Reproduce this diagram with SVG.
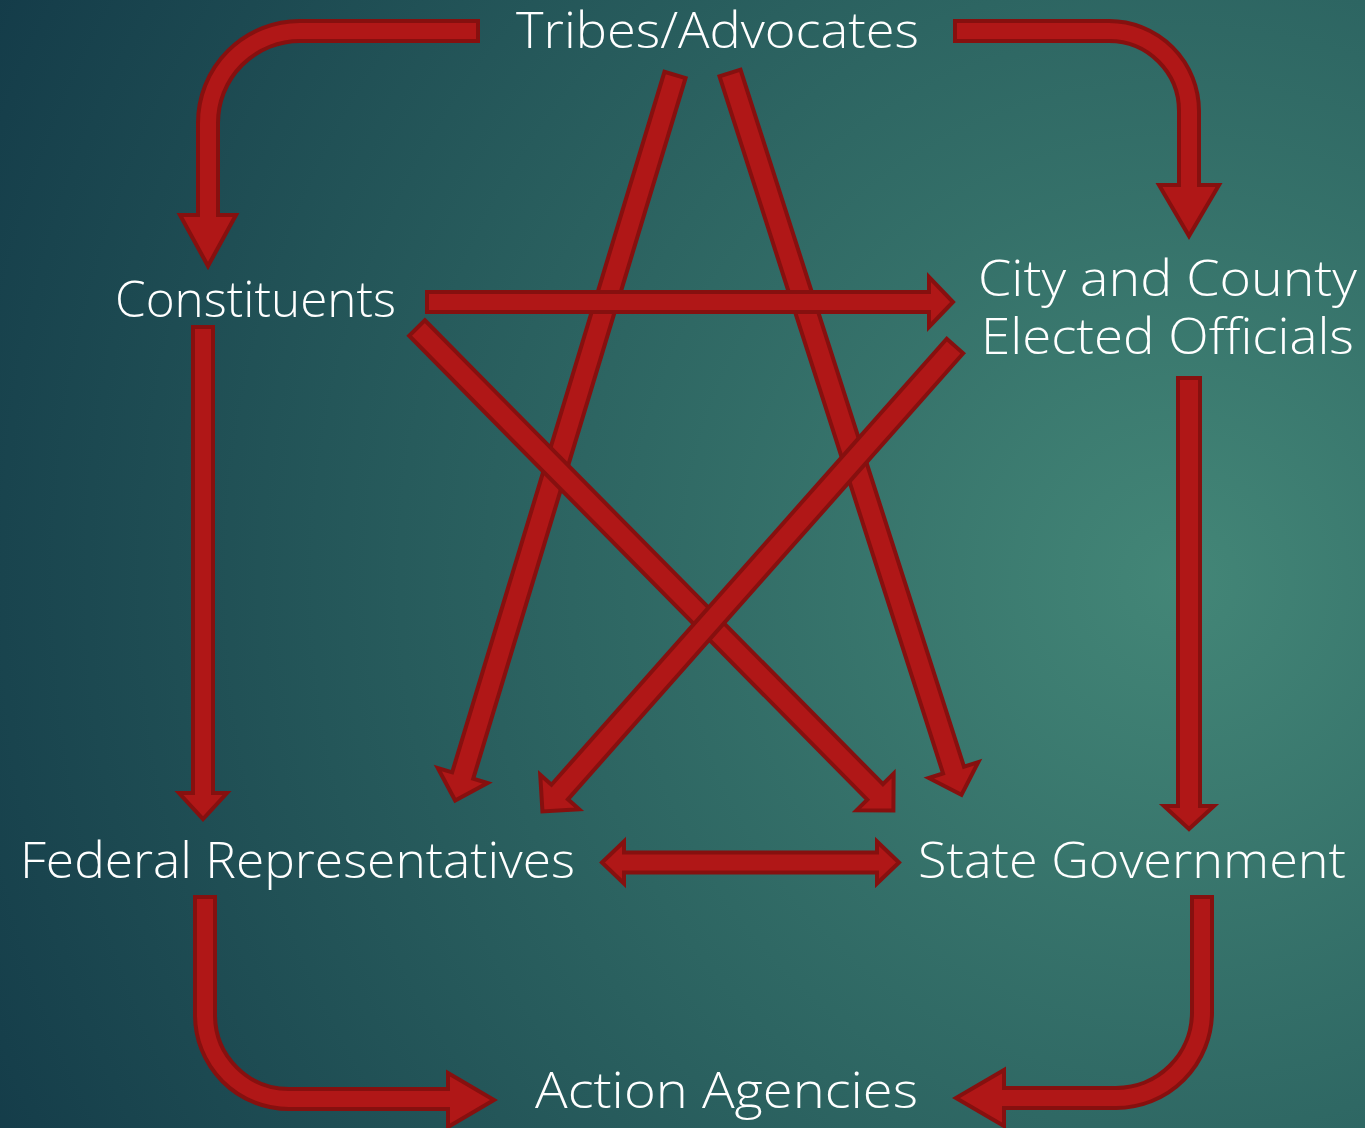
<svg xmlns="http://www.w3.org/2000/svg" width="1365" height="1128" viewBox="0 0 1365 1128">
<defs>
<radialGradient id="bg" gradientUnits="userSpaceOnUse" cx="1180" cy="580" r="1350">
<stop offset="0" stop-color="#438677"/>
<stop offset="0.45" stop-color="#2d6562"/>
<stop offset="1" stop-color="#133a48"/>
</radialGradient>
<style>
.a{fill:#b01717;stroke:#86100f;stroke-width:4;stroke-linejoin:miter}
.t{font-family:"Open Sans","DejaVu Sans",sans-serif;font-size:49px;font-weight:300;fill:#ffffff}
</style>
</defs>
<rect width="1365" height="1128" fill="url(#bg)"/>
<g id="connectors">
<path class="a" d="M478,21 L300,21 A102 102 0 0 0 198,123 L198,215 L180,215 L208,266 L236,215 L218,215 L218,123 A82 82 0 0 1 300,41 L478,41 Z"/>
<path class="a" d="M955,21 L1109,21 A90 90 0 0 1 1199,111 L1199,185 L1219,185 L1189,236 L1159,185 L1179,185 L1179,111 A70 70 0 0 0 1109,41 L955,41 Z"/>
<path class="a" d="M195,897 L195,1015 A94 94 0 0 0 289,1109 L448,1109 L448,1127 L494,1100 L448,1073 L448,1089 L289,1089 A74 74 0 0 1 215,1015 L215,897 Z"/>
<path class="a" d="M1212,897 L1212,1012 A96 96 0 0 1 1116,1108 L1004,1108 L1004,1126 L956,1098 L1004,1070 L1004,1088 L1116,1088 A76 76 0 0 0 1192,1012 L1192,897 Z"/>
<polygon class="a" transform="translate(675,75) rotate(106.86)" points="0,-11 732,-11 732,-26 758,0 732,26 732,11 0,11"/>
<polygon class="a" transform="translate(730,73) rotate(72.22)" points="0,-11 732,-11 732,-26 758,0 732,26 732,11 0,11"/>
<polygon class="a" transform="translate(417,328) rotate(45.36)" points="0,-11 652,-11 652,-26 678,0 652,26 652,11 0,11"/>
<polygon class="a" transform="translate(955,346) rotate(131.55)" points="0,-11 596,-11 596,-26 622,0 596,26 596,11 0,11"/>
<polygon class="a" transform="translate(427,302)" points="0,-10 502,-10 502,-25 526,0 502,25 502,10 0,10"/>
<polygon class="a" points="602,862.5 624,841.5 624,852.5 877,852.5 877,841.5 899,862.5 877,883.5 877,872.5 624,872.5 624,883.5"/>
<polygon class="a" transform="translate(203,327) rotate(90)" points="0,-10 466,-10 466,-24 492,0 466,24 466,10 0,10"/>
<polygon class="a" transform="translate(1189,378) rotate(90)" points="0,-11 428,-11 428,-25 451,0 428,25 428,11 0,11"/>
</g>
<g id="tribes"><text class="t" x="516" y="48" textLength="403" lengthAdjust="spacingAndGlyphs">Tribes/Advocates</text></g>
<g id="constituents"><text class="t" x="115" y="317" textLength="281" lengthAdjust="spacingAndGlyphs">Constituents</text></g>
<g id="city"><text class="t" x="978" y="296" textLength="379" lengthAdjust="spacingAndGlyphs">City and County</text><text class="t" x="981" y="354" textLength="373" lengthAdjust="spacingAndGlyphs">Elected Officials</text></g>
<g id="federal"><text class="t" x="20" y="878" textLength="555" lengthAdjust="spacingAndGlyphs">Federal Representatives</text></g>
<g id="state"><text class="t" x="918" y="878" textLength="428" lengthAdjust="spacingAndGlyphs">State Government</text></g>
<g id="action"><text class="t" x="535" y="1108" textLength="383" lengthAdjust="spacingAndGlyphs">Action Agencies</text></g>
</svg>
